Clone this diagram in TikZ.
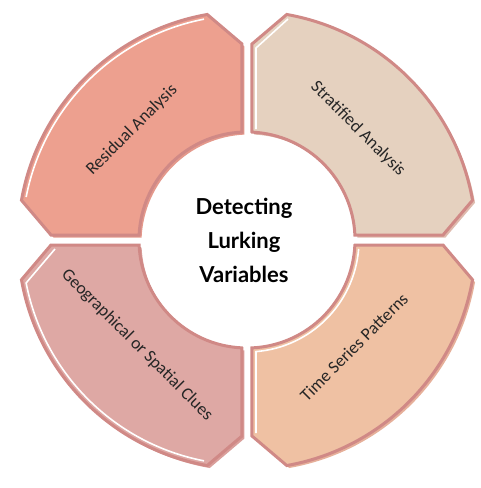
\documentclass[tikz,border=0pt]{standalone}
\usepackage{fontspec}
\setmainfont{Carlito}
\newfontfamily\titlefont{Lato}
\usepackage{xcolor}
\usepackage{tikz}

\definecolor{rimrose}{HTML}{D08986}
\definecolor{residfill}{HTML}{EDA08F}
\definecolor{stratfill}{HTML}{E5D1BF}
\definecolor{geofill}{HTML}{DEA8A4}
\definecolor{timefill}{HTML}{EFC1A3}

\begin{document}
\begin{tikzpicture}[x=1pt, y=1pt,
    rim/.style={draw=rimrose, line width=3pt, line join=miter},
    glint/.style={draw=white, line width=1.6pt},
    segtext/.style={font=\fontsize{17.5}{20}\selectfont, text=black!85},
    pics/quarter/.style={code={
        \path[pic actions] (5,107.9) -- (5,196) -- (80:229)
            arc[start angle=80, end angle=10, radius=229] -- (196,5) -- (107.9,5)
            arc[start angle=2.65, end angle=87.35, radius=108] -- cycle;
    }}]
    \useasboundingbox (-247,-248) rectangle (234,240);

    % soft shadows
    \pic[fill=residfill!70!rimrose, rotate=90] at (2.5,-2.5) {quarter};
    \pic[fill=stratfill!70!rimrose] at (2.5,-2.5) {quarter};
    \pic[fill=geofill!70!rimrose, rotate=180] at (2.5,-2.5) {quarter};
    \pic[fill=timefill!70!rimrose, rotate=270] at (2.5,-2.5) {quarter};

    % the four quarters
    \pic[rim, fill=residfill, rotate=90] {quarter};
    \pic[rim, fill=stratfill] {quarter};
    \pic[rim, fill=geofill, rotate=180] {quarter};
    \pic[rim, fill=timefill, rotate=270] {quarter};

    % white glints
    \draw[glint, rotate=90] (79:225) arc[start angle=79, end angle=11, radius=225];
    \draw[glint] (9,111) -- (9,192) -- (41,221);
    \draw[glint, rotate=180] (192,9) -- (11:225) arc[start angle=11, end angle=79, radius=225];
    \draw[glint, rotate=270] (193,9) -- (111.6,9) arc[start angle=4.6, end angle=85.4, radius=112];

    % labels
    \node[segtext, rotate=45] (resid) at (-115,110) {Residual Analysis};
    \node[segtext, rotate=-45] (strat) at (111,111) {Stratified Analysis};
    \node[segtext, rotate=-45] (geo) at (-110,-105) {Geographical or Spatial Clues};
    \node[segtext, rotate=45] (time) at (107,-107) {Time Series Patterns};

    \node[align=center, font=\titlefont\bfseries\fontsize{22}{34}\selectfont] (title) at (-3,0)
        {Detecting\\Lurking\\Variables};
\end{tikzpicture}
\end{document}
